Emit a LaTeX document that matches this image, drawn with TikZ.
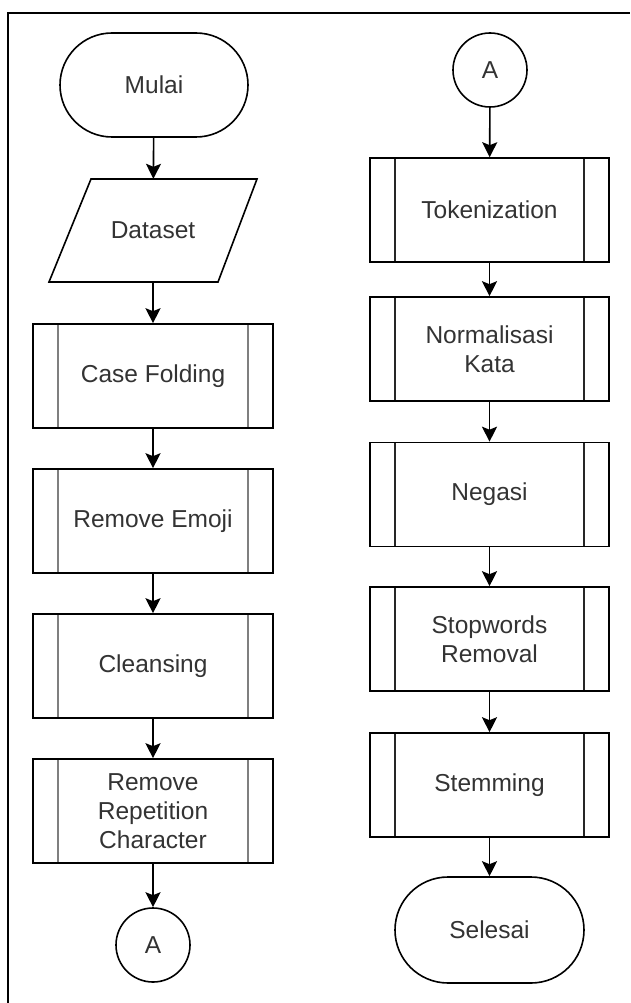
\documentclass[tikz,border=0pt]{standalone}
\usepackage{fontspec}
\setmainfont{Liberation Sans}
\usetikzlibrary{arrows.meta,shapes.misc}
\definecolor{txt}{HTML}{333333}
\definecolor{innergray}{HTML}{7F7F7F}
\begin{document}
\begin{tikzpicture}[x=1pt,y=-1pt,
  every node/.style={font=\fontsize{24.5}{29}\selectfont, text=txt, align=center, inner sep=0pt},
  outline/.style={draw=black, line width=1.6pt},
  procbox/.style={outline, rectangle, minimum width=239pt, minimum height=104pt,
    path picture={
      \draw[line width=2.4pt, #1]
        ([xshift=25pt]path picture bounding box.north west) -- ([xshift=25pt]path picture bounding box.south west)
        ([xshift=-25pt]path picture bounding box.north east) -- ([xshift=-25pt]path picture bounding box.south east);
    }},
  procbox/.default=black!85,
  terminal/.style={outline, rounded rectangle, minimum width=188pt, minimum height=104pt},
  connector/.style={outline, circle, minimum size=74pt},
  flow/.style={draw=black, line width=1.6pt, -{Stealth[length=15pt, width=15pt, inset=3pt]}}
]
\useasboundingbox (0,0) rectangle (630,1003);

% page frame (top and left edges)
\draw[line width=2pt] (8,1003) -- (8,13) -- (630,13);

% left column
\node[terminal] (mulai) at (154,85) {Mulai};
\node[minimum width=166pt, minimum height=103pt] (dataset) at (153,230.5) {Dataset};
\draw[outline, line join=miter] (91,179) -- (257,179) -- (218,282) -- (49,282) -- cycle;
\node[procbox=innergray, minimum width=240pt] (cf) at (153,376) {Case Folding};
\node[procbox=innergray, minimum width=240pt] (re) at (153,521) {Remove Emoji};
\node[procbox=innergray, minimum width=240pt] (cl) at (153,666) {Cleansing};
\node[procbox=innergray, minimum width=240pt] (rr) at (153,811) {Remove\\Repetition\\Character};
\node[connector] (a1) at (153,945) {A};

% right column
\node[connector] (a2) at (490,70) {A};
\node[procbox] (tok) at (489.5,210) {Tokenization};
\node[procbox] (norm) at (489.5,349) {Normalisasi\\Kata};
\node[procbox] (neg) at (489.5,494.5) {Negasi};
\node[procbox] (stop) at (489.5,639) {Stopwords\\Removal};
\node[procbox] (stem) at (489.5,785) {Stemming};
\node[terminal, minimum width=189pt, minimum height=106pt] (selesai) at (489.5,930) {Selesai};

% connectors
\draw[flow] (mulai) -- (dataset);
\draw[flow] (dataset) -- (cf);
\draw[flow] (cf) -- (re);
\draw[flow] (re) -- (cl);
\draw[flow] (cl) -- (rr);
\draw[flow] (rr) -- (a1);
\draw[flow] (a2) -- (tok);
\draw[flow] (tok) -- (norm);
\draw[flow] (norm) -- (neg);
\draw[flow] (neg) -- (stop);
\draw[flow] (stop) -- (stem);
\draw[flow] (stem) -- (selesai);
\end{tikzpicture}
\end{document}
